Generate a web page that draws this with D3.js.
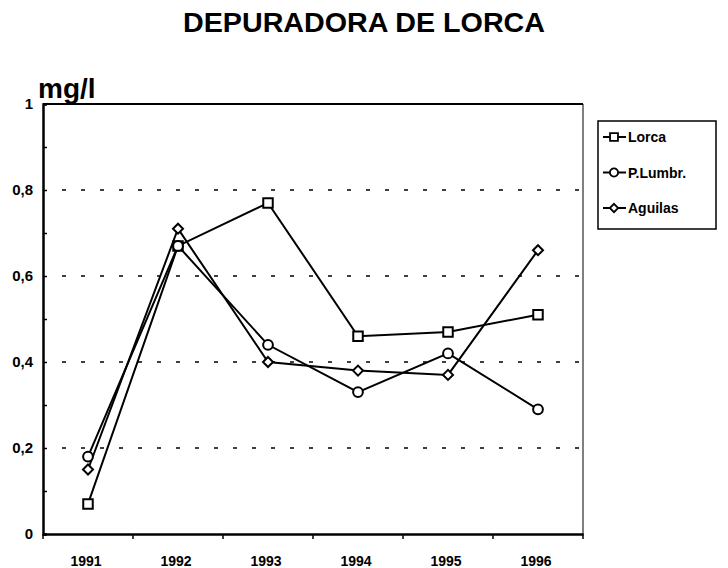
<!DOCTYPE html>
<html><head><meta charset="utf-8">
<script src="https://cdn.jsdelivr.net/npm/d3@7"></script>
<style>body{margin:0;background:#fff}svg{display:block}text{font-family:"Liberation Sans",Arial,Helvetica,sans-serif;font-weight:bold;fill:#000}</style>
</head><body>
<script>
const years = ["1991","1992","1993","1994","1995","1996"];
const lorca = [0.07,0.67,0.77,0.46,0.47,0.51];
const plumbr = [0.18,0.67,0.44,0.33,0.42,0.29];
const aguilas = [0.15,0.71,0.40,0.38,0.37,0.66];
const seriesNames = ["Lorca","P.Lumbr.","Aguilas"];
const seriesShapes = ["square","circle","diamond"];
const yTicks = [0,0.2,0.4,0.6,0.8,1];
const yTickLabels = ["0","0,2","0,4","0,6","0,8","1"];
const yMinor = [0.1,0.3,0.5,0.7,0.9];
const title = "DEPURADORA DE LORCA";
const unit = "mg/l";

const W=728,H=568;
const svg=d3.select("body").append("svg").attr("width",W).attr("height",H);
const L=43,R=583,T=104,B=534;
const x=d3.scaleBand().domain(years).range([L,R]);
const y=d3.scaleLinear().domain([0,1]).range([B,T]);

svg.append("text").attr("x",364).attr("y",32).attr("text-anchor","middle")
  .attr("font-size",27).attr("textLength",362).attr("lengthAdjust","spacingAndGlyphs").text(title);
svg.append("text").attr("x",38).attr("y",98).attr("font-size",28).text(unit);

// gridlines
svg.append("g").selectAll("line").data(yTicks.filter(d=>d>0&&d<1)).join("line")
  .attr("x1",L+19).attr("x2",R).attr("y1",d=>y(d)).attr("y2",d=>y(d))
  .attr("stroke","#000").attr("stroke-width",1.5).attr("stroke-dasharray","4,15");

// frame
svg.append("line").attr("x1",L).attr("x2",R).attr("y1",T).attr("y2",T).attr("stroke","#000").attr("stroke-width",2);
svg.append("line").attr("x1",R).attr("x2",R).attr("y1",T).attr("y2",B).attr("stroke","#000").attr("stroke-width",1);

// y axis
const ya=svg.append("g").attr("transform",`translate(${L},0)`)
  .call(d3.axisRight(y).tickValues(yTicks.concat(yMinor)).tickSize(4).tickFormat(""));
ya.select(".domain").attr("stroke-width",2.5);
ya.selectAll(".tick line").attr("stroke-width",1.5);
svg.append("g").selectAll("text").data(yTicks).join("text")
  .attr("x",33).attr("y",d=>y(d)+5).attr("text-anchor","end").attr("font-size",15)
  .text((d,i)=>yTickLabels[i]);

// x axis
const xa=svg.append("g").attr("transform",`translate(0,${B})`)
  .call(d3.axisBottom(x).tickSize(0).tickFormat(""));
xa.select(".domain").attr("stroke-width",2.5);
const bounds=years.map(d=>x(d)).concat([R]);
svg.append("g").selectAll("line").data(bounds).join("line")
  .attr("x1",d=>d).attr("x2",d=>d).attr("y1",B).attr("y2",B+5).attr("stroke","#000").attr("stroke-width",1.5);
svg.append("g").selectAll("text").data(years).join("text")
  .attr("x",d=>x(d)+x.bandwidth()/2-2).attr("y",566).attr("text-anchor","middle").attr("font-size",14).text(d=>d);

const rhombus={draw(ctx,size){const r=Math.sqrt(size/2);ctx.moveTo(0,-r);ctx.lineTo(r,0);ctx.lineTo(0,r);ctx.lineTo(-r,0);ctx.closePath();}};
const symMap={square:d3.symbolSquare,circle:d3.symbolCircle,diamond:rhombus};
const symSize={square:90,circle:75,diamond:50};
const allSeries=[lorca,plumbr,aguilas];
const line=d3.line().x((d,i)=>x(years[i])+x.bandwidth()/2).y(d=>y(d));
allSeries.forEach((s,k)=>{
  svg.append("path").datum(s).attr("d",line).attr("fill","none").attr("stroke","#000").attr("stroke-width",2);
});
allSeries.forEach((s,k)=>{
  const sh=seriesShapes[k];
  svg.append("g").selectAll("path").data(s).join("path")
    .attr("transform",(d,i)=>`translate(${x(years[i])+x.bandwidth()/2},${y(d)})`)
    .attr("d",d3.symbol().type(symMap[sh]).size(symSize[sh]))
    .attr("fill","#fff").attr("stroke","#000").attr("stroke-width",2);
});

// legend
const lg=svg.append("g");
lg.append("rect").attr("x",598).attr("y",121).attr("width",118).attr("height",108)
  .attr("fill","#fff").attr("stroke","#000").attr("stroke-width",1.5);
seriesNames.forEach((n,k)=>{
  const yy=137+k*35.5;
  lg.append("line").attr("x1",603).attr("x2",626).attr("y1",yy).attr("y2",yy).attr("stroke","#000").attr("stroke-width",2);
  const sh=seriesShapes[k];
  lg.append("path").attr("transform",`translate(614,${yy})`)
    .attr("d",d3.symbol().type(symMap[sh]).size(symSize[sh]*0.7))
    .attr("fill","#fff").attr("stroke","#000").attr("stroke-width",1.8);
  lg.append("text").attr("x",628).attr("y",yy+5).attr("font-size",14).text(n);
});
</script>
</body></html>
